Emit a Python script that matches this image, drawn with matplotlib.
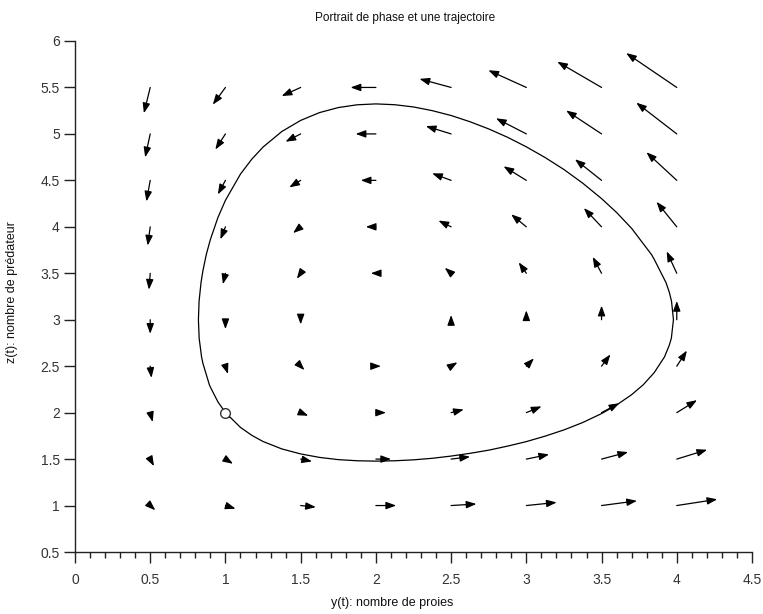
import matplotlib
matplotlib.use("Agg")
import matplotlib.pyplot as plt
import numpy as np
from matplotlib.ticker import MultipleLocator

plt.rcParams['font.family'] = ['Liberation Sans', 'DejaVu Sans']

# grid of the vector field
grid_y = [0.5, 1.0, 1.5, 2.0, 2.5, 3.0, 3.5, 4.0]
grid_z = [1.0, 1.5, 2.0, 2.5, 3.0, 3.5, 4.0, 4.5, 5.0, 5.5]

# field components (rows: grid_z, cols: grid_y)
field_dy = [
    [1, 2, 3, 4, 5, 6, 7, 8],
    [0.75, 1.5, 2.25, 3, 3.75, 4.5, 5.25, 6],
    [0.5, 1, 1.5, 2, 2.5, 3, 3.5, 4],
    [0.25, 0.5, 0.75, 1, 1.25, 1.5, 1.75, 2],
    [0, 0, 0, 0, 0, 0, 0, 0],
    [-0.25, -0.5, -0.75, -1, -1.25, -1.5, -1.75, -2],
    [-0.5, -1, -1.5, -2, -2.5, -3, -3.5, -4],
    [-0.75, -1.5, -2.25, -3, -3.75, -4.5, -5.25, -6],
    [-1, -2, -3, -4, -5, -6, -7, -8],
    [-1.25, -2.5, -3.75, -5, -6.25, -7.5, -8.75, -10],
]
field_dz = [
    [-1.5, -1, -0.5, 0, 0.5, 1, 1.5, 2],
    [-2.25, -1.5, -0.75, 0, 0.75, 1.5, 2.25, 3],
    [-3, -2, -1, 0, 1, 2, 3, 4],
    [-3.75, -2.5, -1.25, 0, 1.25, 2.5, 3.75, 5],
    [-4.5, -3, -1.5, 0, 1.5, 3, 4.5, 6],
    [-5.25, -3.5, -1.75, 0, 1.75, 3.5, 5.25, 7],
    [-6, -4, -2, 0, 2, 4, 6, 8],
    [-6.75, -4.5, -2.25, 0, 2.25, 4.5, 6.75, 9],
    [-7.5, -5, -2.5, 0, 2.5, 5, 7.5, 10],
    [-8.25, -5.5, -2.75, 0, 2.75, 5.5, 8.25, 11],
]

# trajectory (y, z)
traj_y = [1.0, 1.1, 1.175, 1.25, 1.375, 1.5, 1.625, 1.75, 1.875, 2.0, 2.125,
          2.25, 2.375, 2.5, 2.625, 2.75, 2.875, 3.0, 3.125, 3.25, 3.375, 3.5,
          3.6, 3.7, 3.7771, 3.85, 3.9184, 3.95, 3.9638, 3.9779, 3.965, 3.95,
          3.9282, 3.85, 3.8326, 3.7, 3.6, 3.5, 3.375, 3.25, 3.125, 3.0, 2.875,
          2.75, 2.625, 2.5, 2.375, 2.25, 2.125, 2.0, 1.875, 1.75, 1.625, 1.5,
          1.375, 1.25, 1.175, 1.1, 1.0, 0.95, 0.9, 0.8723, 0.85, 0.8377, 0.8248,
          0.8203, 0.8253, 0.8412, 0.85, 0.8931, 0.9, 0.95, 1.0]
traj_z = [2.0, 1.8409, 1.756, 1.6893, 1.6092, 1.5557, 1.5182, 1.4942, 1.4821,
          1.478, 1.4818, 1.492, 1.5086, 1.5325, 1.5618, 1.596, 1.6395, 1.6882,
          1.7471, 1.8141, 1.8937, 1.9897, 2.0822, 2.1934, 2.3, 2.4306, 2.6,
          2.7247, 2.8, 3.0, 3.2, 3.297, 3.4, 3.6503, 3.7, 3.9831, 4.154, 4.3037,
          4.4695, 4.6167, 4.7455, 4.861, 4.9638, 5.0536, 5.1313, 5.198, 5.2502,
          5.290, 5.3142, 5.323, 5.3134, 5.2835, 5.2293, 5.1453, 5.0262, 4.8585,
          4.728, 4.568, 4.2854, 4.1001, 3.8644, 3.7, 3.5246, 3.4, 3.2, 3.0, 2.8,
          2.6, 2.5318, 2.3, 2.2743, 2.1157, 2.0]

start_y, start_z = 1.0, 2.0

fig = plt.figure(figsize=(7.63, 6.14), dpi=100)
ax = fig.add_axes([75/763, 1-552/614, 677/763, 511/614])

U = np.array(field_dy, dtype=float)
V = np.array(field_dz, dtype=float)
norm = np.hypot(U, V)
scale = 0.5 / norm.max()

for i, zz in enumerate(grid_z):
    for j, yy in enumerate(grid_y):
        if norm[i, j] == 0:
            continue
        ax.annotate('', xy=(yy + scale*U[i, j], zz + scale*V[i, j]), xytext=(yy, zz),
                    arrowprops=dict(arrowstyle='-|>,head_length=0.6,head_width=0.22',
                                    color='black', lw=0.9, shrinkA=0, shrinkB=0,
                                    mutation_scale=10))

ax.plot(traj_y, traj_z, color='black', lw=0.9, zorder=4)
ax.plot([start_y], [start_z], marker='o', ms=7, mfc='white', mec='#333333', mew=1.0,
        zorder=6, linestyle='none')

ax.set_xlim(0, 4.5)
ax.set_ylim(0.5, 6)
ax.xaxis.set_major_locator(MultipleLocator(0.5))
ax.xaxis.set_minor_locator(MultipleLocator(0.1))
ax.yaxis.set_major_locator(MultipleLocator(0.5))
ax.xaxis.set_major_formatter(plt.FuncFormatter(lambda v, p: ('%g' % v)))
ax.yaxis.set_major_formatter(plt.FuncFormatter(lambda v, p: ('%g' % v)))

for s in ['top', 'right']:
    ax.spines[s].set_visible(False)
for s in ['left', 'bottom']:
    ax.spines[s].set_color('#222222')
    ax.spines[s].set_linewidth(1.0)

ax.tick_params(axis='x', which='major', direction='out', length=8, width=1.0,
               colors='#222222', labelsize=10, pad=7, labelcolor='#333333')
ax.tick_params(axis='x', which='minor', direction='out', length=4, width=1.0, colors='#222222')
ax.tick_params(axis='y', which='major', direction='out', length=8, width=1.0,
               colors='#222222', labelsize=10, pad=3, labelcolor='#333333')

fig.text(405/763, 1-18/614, 'Portrait de phase et une trajectoire', ha='center', va='center',
         fontsize=8.5, color='#111111')
fig.text(392/763, 1-603/614, 'y(t): nombre de proies', ha='center', va='center',
         fontsize=9, color='#111111')
fig.text(12/763, 1-292/614, 'z(t): nombre de prédateur', ha='center', va='center',
         rotation=90, fontsize=9, color='#111111')

fig.savefig('out.png', dpi=100)
